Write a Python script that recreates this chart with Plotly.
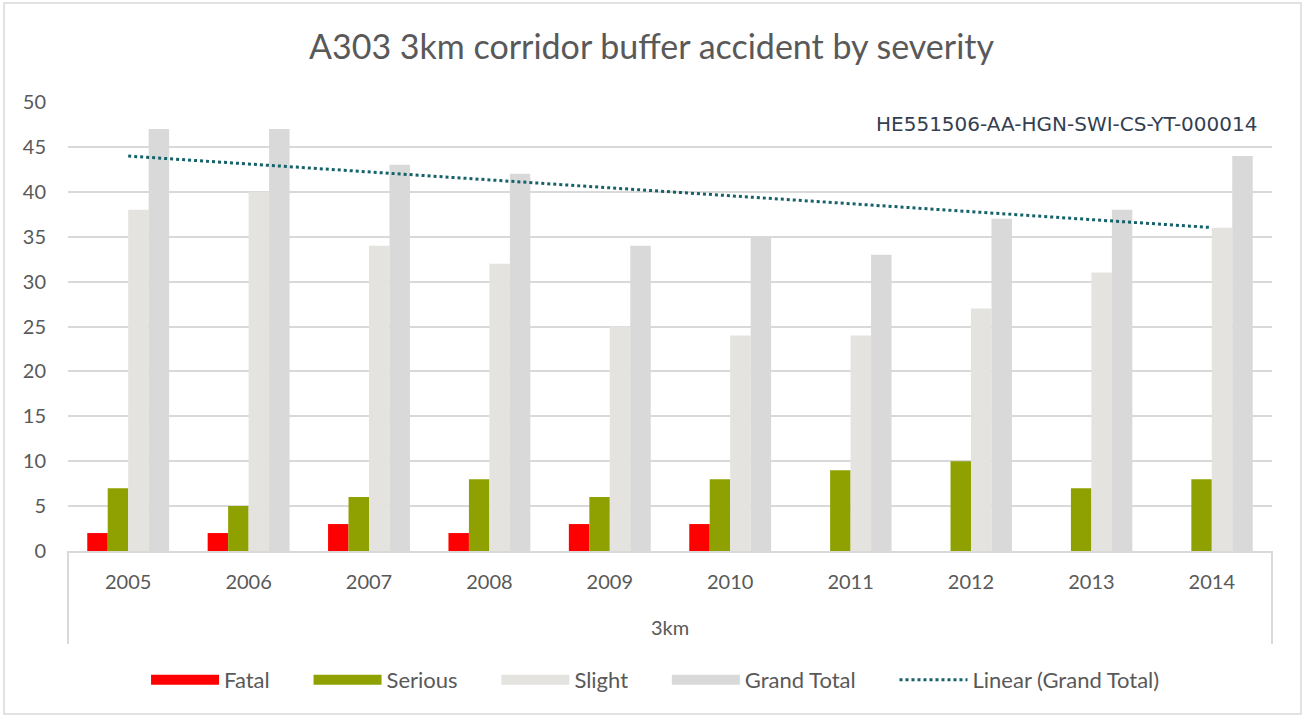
import numpy as np
import plotly.graph_objects as go

years = ['2005', '2006', '2007', '2008', '2009', '2010', '2011', '2012', '2013', '2014']
data = {
    'Fatal': [2, 2, 3, 2, 3, 3, 0, 0, 0, 0],
    'Serious': [7, 5, 6, 8, 6, 8, 9, 10, 7, 8],
    'Slight': [38, 40, 34, 32, 25, 24, 24, 27, 31, 36],
    'Grand Total': [47, 47, 43, 42, 34, 35, 33, 37, 38, 44],
}
colors = {
    'Fatal': '#FF0000',
    'Serious': '#8FA100',
    'Slight': '#E4E3DF',
    'Grand Total': '#D9D9D9',
}
GRID = '#D9D9D9'
TEXT = '#595959'
PAD = '\u00a0' * 6   # Excel leaves a wide gap between legend entries

W, H = 1303, 717
L, R, T, B = 68, 1272, 102, 551   # plot area in pixels


def px_x(p):
    return (p - L) / (R - L)


def px_y(p):
    return (B - p) / (B - T)


fig = go.Figure()
for name, vals in data.items():
    fig.add_trace(go.Bar(
        x=years, y=vals, name=name, legendgroup=name, showlegend=False,
        marker=dict(color=colors[name], line=dict(width=0)),
    ))
    # wide flat legend key, like Excel's
    fig.add_trace(go.Scatter(
        x=[None], y=[None], mode='lines', name=name + PAD, legendgroup=name,
        line=dict(color=colors[name], width=14), hoverinfo='skip',
    ))

# linear trend of the grand total
idx = np.arange(1, len(years) + 1)
slope, icpt = np.polyfit(idx, data['Grand Total'], 1)
fig.add_trace(go.Scatter(
    x=years, y=slope * idx + icpt,
    mode='lines', name='Linear (Grand Total)',
    line=dict(color='#16626B', width=3, dash='dot'),
))

fig.add_annotation(
    text='HE551506-AA-HGN-SWI-CS-YT-000014',
    xref='paper', yref='paper', x=px_x(1259), y=px_y(124),
    xanchor='right', yanchor='middle', showarrow=False,
    font=dict(family='DejaVu Sans', size=20, color='#333F50'),
)

# category box under the axis
for xp in (0, 1):
    fig.add_shape(type='line', xref='paper', yref='paper',
                  x0=xp, x1=xp, y0=0, y1=px_y(644),
                  line=dict(color=GRID, width=2))

# chart frame
fig.add_shape(type='rect', xref='paper', yref='paper',
              x0=px_x(4), x1=px_x(1301), y0=px_y(714), y1=px_y(3),
              line=dict(color=GRID, width=1.5), layer='below')

fig.update_layout(
    width=W, height=H,
    autosize=False,
    title=dict(
        text='A303 3km corridor buffer accident by severity',
        x=0.5, xanchor='center', xref='container',
        y=1 - 47 / H, yanchor='middle', yref='container',
        font=dict(family='Lato, Open Sans', size=34, color=TEXT),
    ),
    font=dict(family='Lato, Open Sans', size=20, color=TEXT),
    paper_bgcolor='white',
    plot_bgcolor='white',
    margin=dict(l=L, r=W - R, t=T, b=H - B, pad=0),
    barmode='group',
    bargap=0.32,
    bargroupgap=0,
    showlegend=True,
    legend=dict(
        orientation='h', x=0.488, xanchor='center',
        y=px_y(680), yanchor='middle',
        font=dict(size=22, color=TEXT),
        itemwidth=68,
        traceorder='normal',
    ),
    xaxis=dict(
        type='category',
        showgrid=False,
        showline=True, linecolor=GRID, linewidth=2,
        ticks='', ticklabelstandoff=12,
        tickfont=dict(size=20, color=TEXT),
        title=dict(text='3km', standoff=29, font=dict(size=20, color=TEXT)),
    ),
    yaxis=dict(
        range=[0, 50], dtick=5,
        showgrid=True, gridcolor=GRID, gridwidth=2,
        zeroline=False, showline=False,
        ticks='', ticklabelstandoff=21,
        tickfont=dict(size=20, color=TEXT),
    ),
)

fig.write_html('out.html', config={'displayModeBar': False},
               post_script="document.body.style.margin='0';")
